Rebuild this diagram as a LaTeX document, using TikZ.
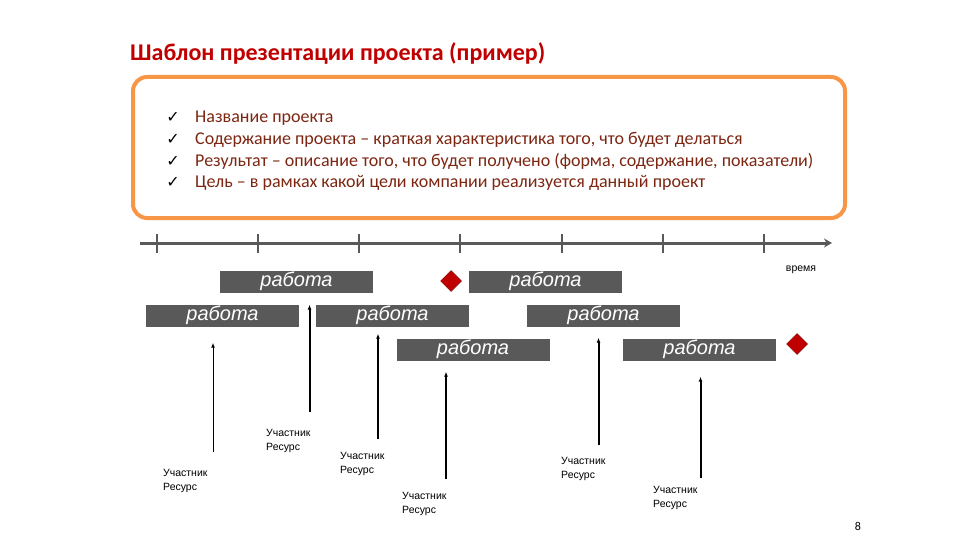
\documentclass[tikz,border=0pt]{standalone}
\usepackage{fontspec}
\setmainfont{Carlito}
\newfontfamily\barfont{Liberation Sans}
\newfontfamily\smallfont{Liberation Sans}
\newfontfamily\checkfont{DejaVu Sans}
\usepackage{tikz}
\usetikzlibrary{shapes,arrows,arrows.meta,positioning}
\definecolor{titlered}{RGB}{192,0,0}
\definecolor{boxorange}{RGB}{247,150,70}
\definecolor{itembrown}{RGB}{125,38,18}
\definecolor{bargray}{RGB}{89,89,89}
\definecolor{milered}{RGB}{192,0,0}
\tikzstyle{bar} = [rectangle,fill=bargray,minimum width=153pt,minimum height=22pt,
  inner sep=0pt,text=white,font=\barfont\itshape\fontsize{20}{20}\selectfont]
\tikzstyle{milestone} = [diamond,fill=milered,draw=milered!70!black,line width=0.5pt,
  aspect=1,minimum size=21pt,inner sep=0pt]
\tikzstyle{member} = [anchor=north west,align=left,inner sep=0pt,
  font=\smallfont\fontsize{10.5}{14.5}\selectfont]
\tikzstyle{link} = [black,-{Latex[length=5pt,width=4pt]}]

\begin{document}
\begin{tikzpicture}[
  x=1pt,y=-1pt,
  axisline/.style={bargray,line width=3pt},
  item/.style={anchor=base west,inner sep=0pt,text=itembrown,
    font=\fontsize{18}{18}\selectfont}
]
\useasboundingbox (0,0) rectangle (960,540);
\fill[white] (0,0) rectangle (960,540);

% title and project description
\node[anchor=base west,inner sep=0pt,text=titlered,
  font=\bfseries\fontsize{24}{24}\selectfont] (title) at (130,61)
  {Шаблон презентации проекта (пример)};
\node[draw=boxorange,line width=4pt,rounded corners=14pt,fill=white,
  minimum width=712pt,minimum height=141pt] (info) at (489,147.5) {};
\foreach \t [count=\i] in {{Название проекта},
    {Содержание проекта -- краткая характеристика того, что будет делаться},
    {Результат -- описание того, что будет получено (форма, содержание, показатели)},
    {Цель -- в рамках какой цели компании реализуется данный проект}}
{
  \node[anchor=base,inner sep=0pt,font=\checkfont\fontsize{16}{16}\selectfont]
    (check\i) at (173,123+21.6*\i-21.6) {✓};
  \node[item] (item\i) at (195,123+21.6*\i-21.6) {\t};
}

% time axis
\coordinate (tstart) at (140,243);
\coordinate (tend) at (832,243);
\draw[axisline,-{Stealth[length=8pt,width=9pt]}] (tstart) -- (tend);
\foreach \x in {157,258,359,460,562,663,764}
  \draw[bargray,line width=1.5pt] (\x,234) -- (\x,253);
\node[font=\smallfont\fontsize{10.5}{10.5}\selectfont] (time) at (801,270) {время};

% works
\node[bar] (A) at (296.5,281.5) {работа};
\node[bar] (B) at (545.5,281.5) {работа};
\node[bar] (C) at (222.5,315.5) {работа};
\node[bar] (D) at (392.5,315.5) {работа};
\node[bar] (E) at (603.5,315.5) {работа};
\node[bar] (F) at (473,349.5) {работа};
\node[bar] (G) at (699.5,349.5) {работа};
\node[milestone] (mile1) at (451,281) {};
\node[milestone] (mile2) at (797,344) {};

% participants and resources
\foreach \x/\y/\tgt/\gap/\w/\lx/\ly [count=\i] in
  {213/452/C/16/1/163/469, 309.5/412/A/12/2/266/429,
   378/439/D/7/2/340/452, 446/479/F/11/2/402/492,
   598.5/445/E/11/2/561/457, 700.5/478/G/16/2/653/486}
{
  \coordinate (foot\i) at (\x,\y);
  \draw[link,line width=\w pt,shorten >=\gap pt] (foot\i) -- (foot\i |- \tgt.south);
  \node[member] (res\i) at (\lx,\ly) {Участник\\Ресурс};
}

\node[font=\fontsize{12}{12}\selectfont] (page) at (858,526) {8};
\end{tikzpicture}
\end{document}
